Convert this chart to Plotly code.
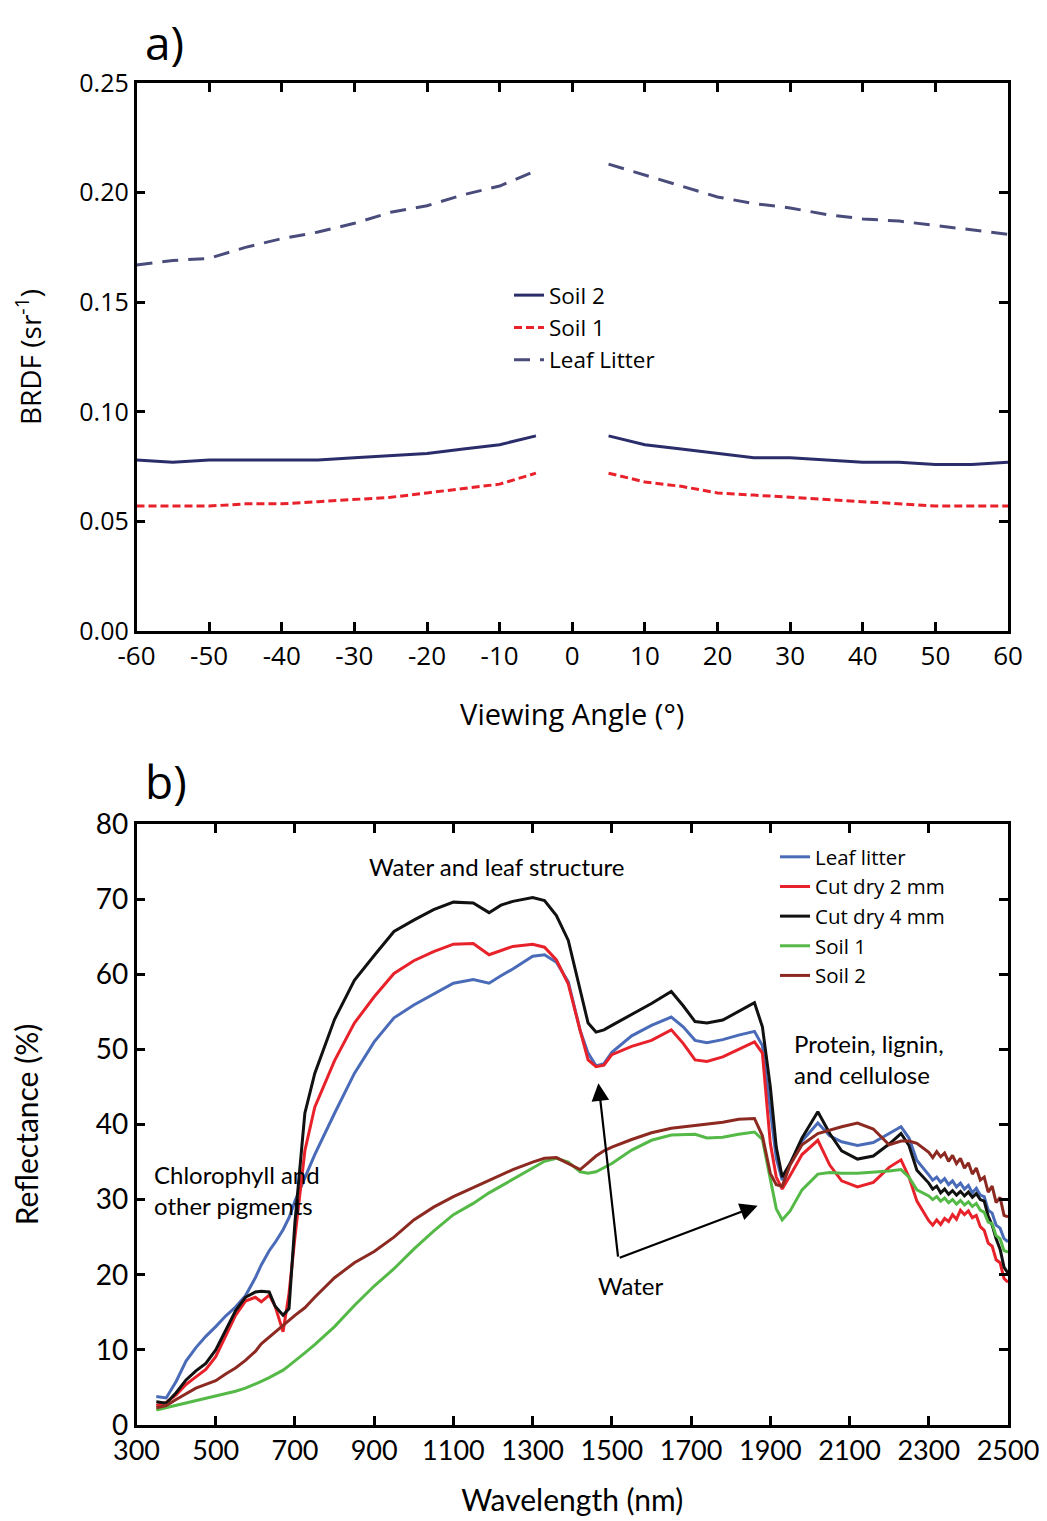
import plotly.graph_objects as go

# ---------------- Panel a data (BRDF vs viewing angle) ----------------
angle = [-60, -55, -50, -45, -40, -35, -30, -25, -20, -15, -10, -5, 0,
         5, 10, 15, 20, 25, 30, 35, 40, 45, 50, 55, 60]
brdf_soil2 = [0.078, 0.077, 0.078, 0.078, 0.078, 0.078, 0.079, 0.080, 0.081, 0.083, 0.085, 0.089, None,
              0.089, 0.085, 0.083, 0.081, 0.079, 0.079, 0.078, 0.077, 0.077, 0.076, 0.076, 0.077]
brdf_soil1 = [0.057, 0.057, 0.057, 0.058, 0.058, 0.059, 0.060, 0.061, 0.063, 0.065, 0.067, 0.072, None,
              0.072, 0.068, 0.066, 0.063, 0.062, 0.061, 0.060, 0.059, 0.058, 0.057, 0.057, 0.057]
brdf_litter = [0.167, 0.169, 0.170, 0.175, 0.179, 0.182, 0.186, 0.191, 0.194, 0.199, 0.203, 0.210, None,
               0.213, 0.208, 0.203, 0.198, 0.195, 0.193, 0.190, 0.188, 0.187, 0.185, 0.183, 0.181]
angle_ticks = [-60, -50, -40, -30, -20, -10, 0, 10, 20, 30, 40, 50, 60]
angle_ticklabels = ["-60", "-50", "-40", "-30", "-20", "-10", "0", "10", "20", "30", "40", "50", "60"]
brdf_ticks = [0.0, 0.05, 0.10, 0.15, 0.20, 0.25]

# ---------------- Panel b data (reflectance spectra) ----------------
wavelength = [350, 375, 400, 425, 450, 475, 500, 525, 550, 575, 600, 615, 635, 650, 670, 685,
              700, 725, 750, 800, 850, 900, 950, 1000, 1050, 1100, 1150, 1190, 1220, 1250,
              1300, 1330, 1360, 1390, 1420, 1440, 1460, 1480, 1500, 1550, 1600, 1650, 1680,
              1710, 1740, 1780, 1820, 1860, 1880, 1900, 1915, 1930, 1950, 1980, 2020, 2050,
              2080, 2120, 2160, 2200, 2230, 2250, 2270,
              2300, 2310, 2320, 2330, 2340, 2350, 2360, 2370, 2380, 2390, 2400,
              2410, 2420, 2430, 2440, 2450, 2460, 2470, 2480, 2490, 2500]
leaf_litter = [3.8, 3.6, 5.8, 8.5, 10.3, 11.8, 13.1, 14.5, 15.7, 17.2, 19.6, 21.3, 23.2, 24.3, 26.0, 27.6,
               29.8, 33.0, 36.0, 41.5, 46.8, 51.0, 54.2, 55.9, 57.3, 58.8, 59.3, 58.8, 59.8, 60.7,
               62.4, 62.6, 61.6, 59.0, 52.5, 49.5, 47.8, 48.1, 49.6, 51.8, 53.2, 54.3, 53.0,
               51.2, 50.9, 51.3, 51.9, 52.4, 50.5, 42.0, 35.5, 32.6, 34.8, 37.8, 40.2, 38.5,
               37.7, 37.2, 37.6, 38.8, 39.7, 38.2, 35.2,
               33.3, 32.6, 33.0, 32.3, 32.8, 32.0, 32.5, 31.7, 32.2, 31.4, 31.9,
               30.9, 31.5, 30.6, 30.4, 28.6, 28.2, 26.6, 26.2, 24.8, 24.4]
cut_dry_2mm = [2.6, 3.0, 4.0, 5.4, 6.4, 7.4, 9.1, 11.8, 14.6, 16.5, 17.0, 16.4, 17.3, 15.8, 12.4, 17.5,
               25.0, 36.5, 42.3, 48.5, 53.5, 57.0, 60.1, 61.8, 63.0, 64.0, 64.1, 62.6, 63.2, 63.7,
               64.0, 63.6, 61.9, 58.7, 52.5, 48.6, 47.7, 47.9, 49.3, 50.4, 51.2, 52.6, 50.8,
               48.6, 48.4, 49.0, 50.0, 51.0, 49.5, 37.5, 33.0, 31.4, 33.2, 36.0, 37.9, 34.6,
               32.5, 31.7, 32.3, 34.3, 35.3, 33.0, 29.8,
               27.2, 26.6, 27.3, 26.7, 27.5, 27.1, 28.0, 27.4, 28.6, 28.0, 28.5,
               27.6, 27.9, 26.4, 25.9, 24.2, 23.8, 22.0, 21.6, 19.5, 19.0]
cut_dry_4mm = [3.1, 2.9, 4.3, 6.0, 7.2, 8.2, 10.0, 12.6, 15.2, 17.0, 17.7, 17.8, 17.7, 15.8, 14.6, 15.5,
               27.0, 41.5, 46.8, 54.0, 59.2, 62.5, 65.7, 67.2, 68.6, 69.6, 69.5, 68.2, 69.2, 69.7,
               70.2, 69.8, 67.8, 64.5, 58.0, 53.5, 52.3, 52.6, 53.2, 54.6, 56.1, 57.7, 55.8,
               53.7, 53.5, 53.9, 55.0, 56.2, 53.0, 45.0, 37.0, 33.0, 34.8, 38.2, 41.7, 38.8,
               36.5, 35.4, 35.8, 37.4, 38.8, 37.2, 33.9,
               32.2, 31.4, 31.8, 30.9, 31.4, 30.7, 31.2, 30.6, 31.1, 30.5, 31.0,
               30.3, 30.8, 30.0, 29.8, 27.8, 26.6, 24.8, 23.4, 21.0, 20.2]
soil_1 = [2.0, 2.3, 2.7, 3.0, 3.3, 3.6, 3.9, 4.2, 4.5, 4.9, 5.4, 5.8, 6.3, 6.7, 7.3, 7.9,
          8.5, 9.6, 10.7, 13.1, 15.9, 18.5, 20.8, 23.4, 25.8, 28.0, 29.5, 30.9, 31.8, 32.7,
          34.2, 35.1, 35.5, 35.0, 33.7, 33.5, 33.7, 34.2, 34.8, 36.6, 37.9, 38.6, 38.6,
          38.7, 38.2, 38.3, 38.7, 39.0, 38.0, 32.5, 28.8, 27.3, 28.5, 31.3, 33.4, 33.6,
          33.5, 33.5, 33.6, 33.8, 34.0, 33.0, 31.3,
          30.5, 30.0, 30.4, 29.8, 30.2, 29.6, 30.0, 29.4, 29.9, 29.3, 29.7,
          29.1, 29.5, 28.6, 28.3, 27.0, 26.8, 25.2, 24.8, 23.2, 23.0]
soil_2 = [2.3, 2.6, 3.4, 4.2, 4.9, 5.4, 5.9, 6.8, 7.6, 8.6, 9.8, 10.8, 11.7, 12.4, 13.2, 13.9,
          14.6, 15.6, 17.0, 19.6, 21.6, 23.1, 25.0, 27.3, 29.0, 30.4, 31.6, 32.5, 33.3, 34.0,
          35.0, 35.5, 35.6, 34.8, 34.0, 34.9, 35.8, 36.5, 37.0, 38.0, 38.9, 39.5, 39.7,
          39.9, 40.1, 40.3, 40.7, 40.8, 38.5, 33.5, 32.0, 31.8, 34.6, 37.3, 38.8, 39.3,
          39.7, 40.2, 39.4, 37.3, 37.8, 37.8, 37.5,
          36.3, 35.6, 36.4, 35.7, 36.2, 35.1, 35.9, 34.8, 35.5, 34.2, 34.9,
          33.4, 34.2, 32.6, 33.0, 31.0, 31.8, 29.6, 30.3, 27.9, 27.7]
wl_ticks = list(range(300, 2501, 200))
refl_ticks = list(range(0, 81, 10))

# page body adds an 8 px margin; size the figure so it fits the window
OFF = 8
W, H = 1047 - OFF, 1521 - OFF
def px(x):
    return (x - OFF) / W
def py(y):
    return 1 - (y - OFF) / H

FONT_A = "Open Sans, Noto Sans, sans-serif"
FONT_B = "Lato, Open Sans, sans-serif"

fig = go.Figure()

# Panel a traces
fig.add_trace(go.Scatter(x=angle, y=brdf_soil2, mode="lines", name="Soil 2",
                         line=dict(color="#2b2d6b", width=3), xaxis="x", yaxis="y",
                         legend="legend", connectgaps=False))
fig.add_trace(go.Scatter(x=angle, y=brdf_soil1, mode="lines", name="Soil 1",
                         line=dict(color="#e8212b", width=3, dash="8px,4px"), xaxis="x", yaxis="y",
                         legend="legend", connectgaps=False))
fig.add_trace(go.Scatter(x=angle, y=brdf_litter, mode="lines", name="Leaf Litter",
                         line=dict(color="#4a4d7c", width=3, dash="16px,10px"), xaxis="x", yaxis="y",
                         legend="legend", connectgaps=False))

# Panel b traces
series_b = [("Leaf litter", leaf_litter, "#4a6bb8"),
            ("Cut dry 2 mm", cut_dry_2mm, "#e8222a"),
            ("Cut dry 4 mm", cut_dry_4mm, "#111111"),
            ("Soil 1", soil_1, "#55b947"),
            ("Soil 2", soil_2, "#8c2a22")]
for name, vals, col in series_b:
    fig.add_trace(go.Scatter(x=wavelength, y=vals, mode="lines", name=name,
                             line=dict(color=col, width=3), xaxis="x2", yaxis="y2",
                             legend="legend2"))

xdom = [px(136.5), px(1008)]
axis_common = dict(showline=True, linecolor="black", linewidth=2.5, mirror="allticks",
                   ticks="inside", ticklen=9, tickwidth=2.5, tickcolor="black",
                   showgrid=False, zeroline=False, automargin=False)

fig.update_layout(
    width=W, height=H, template="none",
    paper_bgcolor="white", plot_bgcolor="white",
    margin=dict(l=0, r=0, t=0, b=0),
    showlegend=True,
    xaxis=dict(domain=xdom, anchor="y", range=[-60, 60], tickvals=angle_ticks,
               ticktext=angle_ticklabels,
               tickfont=dict(family=FONT_A, size=26, color="black"),
               title=dict(text="Viewing Angle (°)", font=dict(family=FONT_A, size=29, color="black"),
                          standoff=33),
               **axis_common),
    yaxis=dict(domain=[py(631), py(83)], anchor="x", range=[0, 0.25], tickvals=brdf_ticks,
               tickformat=".2f",
               tickfont=dict(family=FONT_A, size=25, color="black"),
               title=dict(text="BRDF (sr<sup>-1</sup>)", font=dict(family=FONT_A, size=28, color="black"),
                          standoff=40),
               **axis_common),
    xaxis2=dict(domain=xdom, anchor="y2", range=[300, 2500], tickvals=wl_ticks,
                tickfont=dict(family=FONT_B, size=27, color="black"),
                title=dict(text="Wavelength (nm)", font=dict(family=FONT_B, size=30, color="black"),
                           standoff=25),
                **axis_common),
    yaxis2=dict(domain=[py(1425), py(824)], anchor="x2", range=[0, 80], tickvals=refl_ticks,
                tickfont=dict(family=FONT_B, size=28, color="black"),
                title=dict(text="Reflectance (%)", font=dict(family=FONT_B, size=30, color="black"),
                           standoff=49),
                **axis_common),
    legend=dict(x=px(509), y=py(274), xanchor="left", yanchor="top",
                bgcolor="rgba(0,0,0,0)", borderwidth=0,
                font=dict(family=FONT_A, size=22.5, color="black"),
                tracegroupgap=0, itemwidth=30),
    legend2=dict(x=px(775), y=py(837), xanchor="left", yanchor="top",
                 bgcolor="rgba(0,0,0,0)", borderwidth=0,
                 font=dict(family=FONT_A, size=20.5, color="black"),
                 tracegroupgap=0, itemwidth=30),
)

ann_font = dict(family=FONT_B, size=24, color="black")
annotations = [
    dict(text="a)", x=px(143), y=py(42), xref="paper", yref="paper", xanchor="left", yanchor="middle",
         showarrow=False, font=dict(family=FONT_A, size=46, color="black")),
    dict(text="b)", x=px(143), y=py(781), xref="paper", yref="paper", xanchor="left", yanchor="middle",
         showarrow=False, font=dict(family=FONT_A, size=46, color="black")),
    dict(text="Water and leaf structure", x=1210, y=74.4, xref="x2", yref="y2", showarrow=False,
         xanchor="center", yanchor="middle", font=ann_font),
    dict(text="Chlorophyll and<br>other pigments", x=340, y=31.3, xref="x2", yref="y2", showarrow=False,
         xanchor="left", yanchor="middle", align="left", font=ann_font),
    dict(text="Protein, lignin,<br>and cellulose", x=1955, y=48.7, xref="x2", yref="y2", showarrow=False,
         xanchor="left", yanchor="middle", align="left", font=ann_font),
    dict(text="Water", x=1547, y=18.6, xref="x2", yref="y2", showarrow=False,
         xanchor="center", yanchor="middle", font=ann_font),
    # arrows from the common vertex
    dict(text="", x=1466, y=45.5, ax=1516, ay=22.2, xref="x2", yref="y2", axref="x2", ayref="y2",
         showarrow=True, arrowhead=2, arrowsize=1.6, arrowwidth=2.2, arrowcolor="black"),
    dict(text="", x=1868, y=29.2, ax=1516, ay=22.2, xref="x2", yref="y2", axref="x2", ayref="y2",
         showarrow=True, arrowhead=2, arrowsize=1.6, arrowwidth=2.2, arrowcolor="black"),
]
fig.update_layout(annotations=annotations)

fig.write_html("out.html")
